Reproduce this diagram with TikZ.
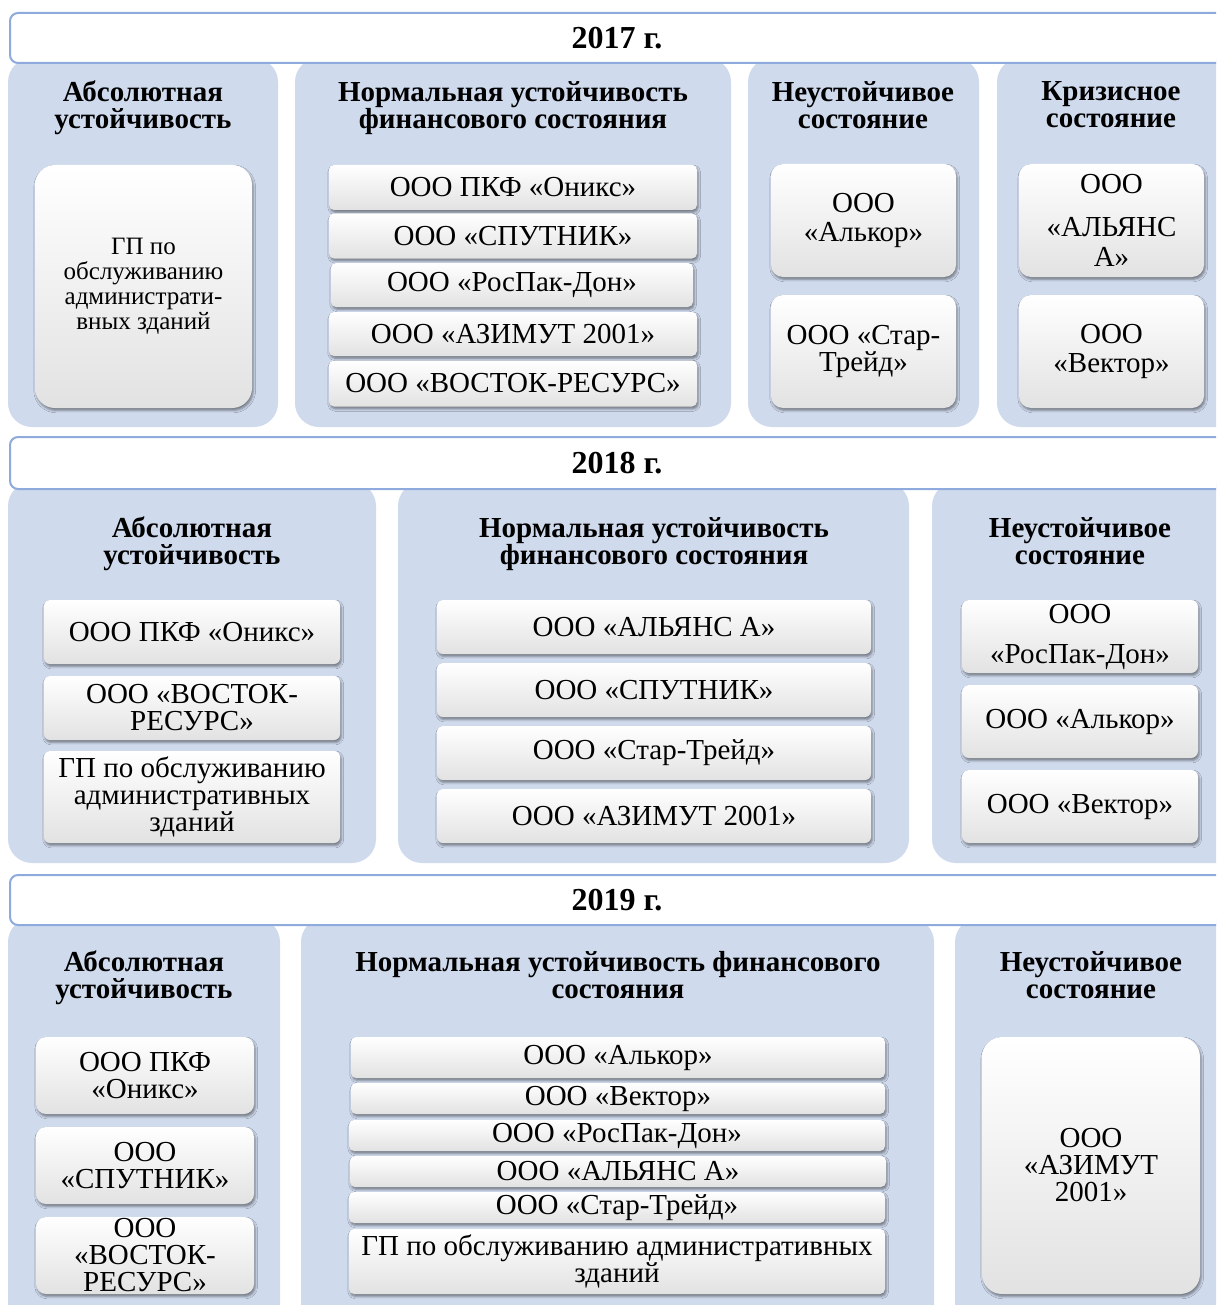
\documentclass[tikz,border=0pt]{standalone}
\usepackage{fontspec}
\setmainfont{Liberation Serif}
\usetikzlibrary{shadows.blur}

\definecolor{panelblue}{RGB}{207,218,237}
\definecolor{barblue}{RGB}{143,170,220}
\definecolor{boxgray}{RGB}{226,226,226}

\begin{document}
\begin{tikzpicture}[x=0.5pt,y=-0.5pt,
    every node/.style={inner sep=0pt,align=center,
      font=\fontsize{14.5}{13.5}\selectfont},
    panel/.style={fill=panelblue,rounded corners=12pt},
    yearbar/.style={draw=barblue,line width=1pt,fill=white,rounded corners=4pt,
      minimum width=607pt,font=\fontsize{16}{16}\selectfont\bfseries},
    head/.style={font=\fontsize{14.5}{13.5}\selectfont\bfseries},
    item/.style={top color=white,middle color=white,bottom color=boxgray,rounded corners=2.5pt,
      blur shadow={shadow xshift=0.6pt,shadow yshift=-1.2pt,
        shadow blur radius=1.2pt,shadow opacity=45}}]
  \useasboundingbox (0,0) rectangle (1216,1305);
  \fill[white] (0,0) rectangle (1216,1305);
  \clip (0,0) rectangle (1216,1305);

  % 2017
  \path[panel] (8,58) rectangle (278,427);
  \path[panel] (295,58) rectangle (731,427);
  \path[panel] (748,58) rectangle (979,427);
  \path[panel] (997,58) rectangle (1240,427);
  \node[yearbar,minimum height=25pt] (y17) at (617,38) {2017 г.};
  \node[head] (s17a) at (143,108)  {Абсолютная\\устойчивость};
  \node[head] (s17b) at (513,108)  {Нормальная устойчивость\\финансового состояния};
  \node[head] (s17c) at (863,105)  {Неустойчивое\\состояние};
  \node[head] (s17d) at (1111,105) {Кризисное\\состояние};

  \node[item,rounded corners=10pt,minimum width=108.5pt,minimum height=121.5pt,
        font=\fontsize{12.5}{12.5}\selectfont] (g17a1) at (143.5,286.5)
        {ГП по\\обслуживанию\\администрати-\\вных зданий};

  \node[item,minimum width=184pt,minimum height=22.5pt] (g17b1) at (513,187.5) {ООО ПКФ «Оникс»};
  \node[item,minimum width=184pt,minimum height=22.5pt] (g17b2) at (513,236)   {ООО «СПУТНИК»};
  \node[item,minimum width=181pt,minimum height=22pt]   (g17b3) at (512,285)   {ООО «РосПак-Дон»};
  \node[item,minimum width=184pt,minimum height=22pt]   (g17b4) at (513,334)   {ООО «АЗИМУТ 2001»};
  \node[item,minimum width=184pt,minimum height=23pt]   (g17b5) at (513,383.5) {ООО «ВОСТОК-РЕСУРС»};

  \node[item,rounded corners=6pt,minimum width=92.5pt,minimum height=56.5pt] (g17c1) at (863.5,220.5) {ООО\\[1pt]«Алькор»};
  \node[item,rounded corners=6pt,minimum width=92.5pt,minimum height=56.5pt] (g17c2) at (863.5,351.5) {ООО «Стар-\\Трейд»};
  \node[item,rounded corners=6pt,minimum width=92.5pt,minimum height=56.5pt] (g17d1) at (1111.5,220.5) {ООО\\[8pt]«АЛЬЯНС\\[1.5pt]А»};
  \node[item,rounded corners=6pt,minimum width=92.5pt,minimum height=56.5pt] (g17d2) at (1111.5,351.5) {ООО\\[1pt]«Вектор»};

  % 2018
  \path[panel] (8,482) rectangle (376,863);
  \path[panel] (398,482) rectangle (909,863);
  \path[panel] (932,482) rectangle (1240,863);
  \node[yearbar,minimum height=26pt] (y18) at (617,463) {2018 г.};
  \node[head] (s18a) at (192,544)  {Абсолютная\\устойчивость};
  \node[head] (s18b) at (654,544)  {Нормальная устойчивость\\финансового состояния};
  \node[head] (s18c) at (1080,541) {Неустойчивое\\состояние};

  \node[item,rounded corners=3pt,minimum width=148pt,minimum height=32pt] (g18a1) at (192,632) {ООО ПКФ «Оникс»};
  \node[item,rounded corners=3pt,minimum width=148pt,minimum height=32pt] (g18a2) at (192,708) {ООО «ВОСТОК-\\РЕСУРС»};
  \node[item,rounded corners=3pt,minimum width=148pt,minimum height=46pt] (g18a3) at (192,797) {ГП по обслуживанию\\административных\\зданий};

  \node[item,rounded corners=3pt,minimum width=217pt,minimum height=27pt] (g18b1) at (654,627) {ООО «АЛЬЯНС А»};
  \node[item,rounded corners=3pt,minimum width=217pt,minimum height=27pt] (g18b2) at (654,690) {ООО «СПУТНИК»};
  \node[item,rounded corners=3pt,minimum width=217pt,minimum height=27pt] (g18b3) at (654,753) {ООО «Стар-Трейд»};
  \node[item,rounded corners=3pt,minimum width=217pt,minimum height=27pt] (g18b4) at (654,816) {ООО «АЗИМУТ 2001»};

  \node[item,rounded corners=3.5pt,minimum width=118pt,minimum height=36.5pt] (g18c1) at (1080,636.5) {ООО\\[6.5pt]«РосПак-Дон»};
  \node[item,rounded corners=3.5pt,minimum width=118pt,minimum height=36.5pt] (g18c2) at (1080,721.5) {ООО «Алькор»};
  \node[item,rounded corners=3.5pt,minimum width=118pt,minimum height=36.5pt] (g18c3) at (1080,806.5) {ООО «Вектор»};

  % 2019
  \path[panel] (8,918) rectangle (280,1340);
  \path[panel] (301,918) rectangle (934,1340);
  \path[panel] (955,918) rectangle (1240,1340);
  \node[yearbar,minimum height=25pt] (y19) at (617,900) {2019 г.};
  \node[head] (s19a) at (144,978)  {Абсолютная\\устойчивость};
  \node[head] (s19b) at (618,975)  {Нормальная устойчивость финансового\\состояния};
  \node[head] (s19c) at (1091,975) {Неустойчивое\\состояние};

  \node[item,rounded corners=5pt,minimum width=109pt,minimum height=38.5pt] (g19a1) at (145,1075.5) {ООО ПКФ\\«Оникс»};
  \node[item,rounded corners=5pt,minimum width=109pt,minimum height=38.5pt] (g19a2) at (145,1165.5) {ООО\\«СПУТНИК»};
  \node[item,rounded corners=5pt,minimum width=109pt,minimum height=38.5pt] (g19a3) at (145,1255.5) {ООО\\«ВОСТОК-\\РЕСУРС»};

  \node[item,minimum width=267pt,minimum height=20.5pt] (g19b1) at (618,1057.5) {ООО «Алькор»};
  \node[item,minimum width=267pt,minimum height=15.5pt] (g19b2) at (618,1098.5) {ООО «Вектор»};
  \node[item,minimum width=268pt,minimum height=15.5pt] (g19b3) at (617,1135.5) {ООО «РосПак-Дон»};
  \node[item,minimum width=268pt,minimum height=15.5pt] (g19b4) at (618,1171.5) {ООО «АЛЬЯНС А»};
  \node[item,minimum width=268pt,minimum height=15.5pt] (g19b5) at (617,1207.5) {ООО «Стар-Трейд»};
  \node[item,minimum width=268pt,minimum height=32.5pt] (g19b6) at (617,1261.5) {ГП по обслуживанию административных\\зданий};

  \node[item,rounded corners=10pt,minimum width=109pt,minimum height=128.5pt] (g19c1) at (1091,1165.5) {ООО\\«АЗИМУТ\\2001»};
\end{tikzpicture}
\end{document}
